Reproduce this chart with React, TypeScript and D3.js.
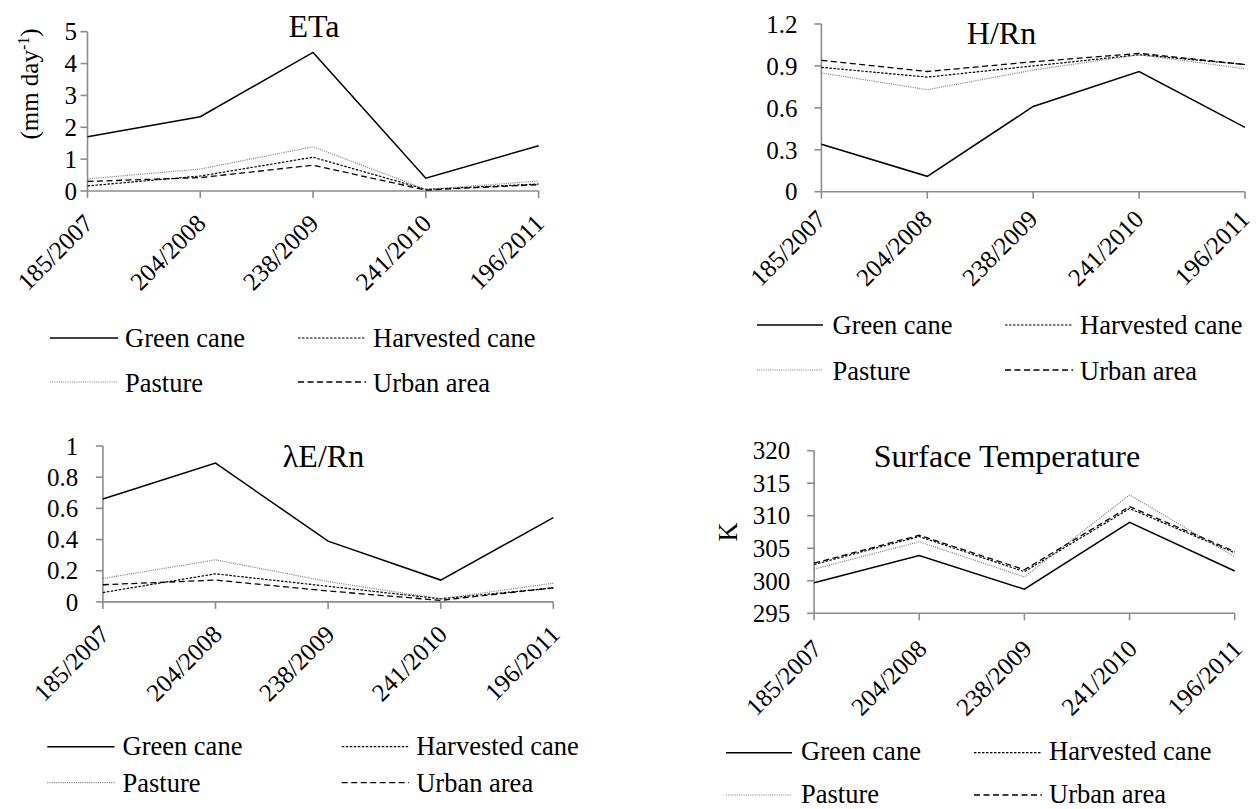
import React from 'react'
import * as d3 from 'd3'

// acquisition dates (day of year / year)
const dates = ['185/2007', '204/2008', '238/2009', '241/2010', '196/2011']
const seriesNames = ['Green cane', 'Harvested cane', 'Pasture', 'Urban area']

// ETa (mm day-1)
const etaGreen = [1.7, 2.33, 4.35, 0.4, 1.42]
const etaHarvested = [0.16, 0.47, 1.06, 0.05, 0.22]
const etaPasture = [0.38, 0.69, 1.39, 0.05, 0.31]
const etaUrban = [0.3, 0.42, 0.81, 0.03, 0.2]
const etaTicks = [0, 1, 2, 3, 4, 5]
const etaTickLabels = ['0', '1', '2', '3', '4', '5']

// H/Rn
const hrnGreen = [0.34, 0.11, 0.61, 0.86, 0.46]
const hrnHarvested = [0.89, 0.82, 0.9, 0.98, 0.91]
const hrnPasture = [0.85, 0.73, 0.87, 0.98, 0.88]
const hrnUrban = [0.94, 0.86, 0.93, 0.99, 0.91]
const hrnTicks = [0, 0.3, 0.6, 0.9, 1.2]
const hrnTickLabels = ['0', '0.3', '0.6', '0.9', '1.2']

// lambda E / Rn
const leGreen = [0.66, 0.89, 0.39, 0.14, 0.54]
const leHarvested = [0.06, 0.18, 0.1, 0.02, 0.09]
const lePasture = [0.15, 0.27, 0.13, 0.02, 0.12]
const leUrban = [0.11, 0.14, 0.07, 0.01, 0.09]
const leTicks = [0, 0.2, 0.4, 0.6, 0.8, 1]
const leTickLabels = ['0', '0.2', '0.4', '0.6', '0.8', '1']

// surface temperature (K)
const tsGreen = [299.7, 303.9, 298.7, 309.0, 301.5]
const tsHarvested = [302.5, 306.8, 301.4, 311.1, 304.3]
const tsPasture = [301.8, 306.0, 300.6, 313.2, 303.7]
const tsUrban = [302.7, 307.0, 301.7, 311.4, 304.5]
const tsTicks = [295, 300, 305, 310, 315, 320]
const tsTickLabels = ['295', '300', '305', '310', '315', '320']

const FONT = "'Liberation Serif', 'DejaVu Serif', serif"
const AXIS = '#8c8c8c'

// line look per series, same order as seriesNames
const styles = [
  { stroke: '#000', width: 1.5, dash: undefined },
  { stroke: '#000', width: 1.2, dash: '2.5,1.5' },
  { stroke: '#7a7a7a', width: 1.2, dash: '1,1.2' },
  { stroke: '#000', width: 1.3, dash: '6,3.5' },
]

interface Layout {
  x0: number; x1: number; yTop: number; yBot: number
  labelRight: number
  titleX: number; titleY: number
  xlDx: number; xlDy: number
  leg: { l1: number[]; l2: number[]; t1: number; t2: number; r1: number; r2: number; b1: number; b2: number }
}

const panels = [
  {
    title: 'ETa', series: [etaGreen, etaHarvested, etaPasture, etaUrban],
    ticks: etaTicks, tickLabels: etaTickLabels, domain: [0, 5],
    lay: {
      x0: 87.5, x1: 538.6, yTop: 31.7, yBot: 191, labelRight: 77,
      titleX: 314, titleY: 37, xlDx: 7, xlDy: 34,
      leg: { l1: [50, 118], l2: [298, 366], t1: 125, t2: 373, r1: 338, r2: 382, b1: 347, b2: 392 },
    } as Layout,
  },
  {
    title: 'H/Rn', series: [hrnGreen, hrnHarvested, hrnPasture, hrnUrban],
    ticks: hrnTicks, tickLabels: hrnTickLabels, domain: [0, 1.2],
    lay: {
      x0: 821.4, x1: 1245, yTop: 24, yBot: 191.7, labelRight: 797.6,
      titleX: 1001.5, titleY: 44, xlDx: 6, xlDy: 29,
      leg: { l1: [757, 823], l2: [1005, 1073], t1: 832.5, t2: 1080, r1: 325, r2: 370, b1: 334, b2: 380 },
    } as Layout,
  },
  {
    title: 'λE/Rn', series: [leGreen, leHarvested, lePasture, leUrban],
    ticks: leTicks, tickLabels: leTickLabels, domain: [0, 1],
    lay: {
      x0: 102.9, x1: 553.3, yTop: 446, yBot: 601.9, labelRight: 78.2,
      titleX: 323.5, titleY: 466.7, xlDx: 8, xlDy: 34,
      leg: { l1: [47.3, 114.5], l2: [341.7, 409], t1: 122.5, t2: 416.2, r1: 746.7, r2: 782.7, b1: 755, b2: 791.7 },
    } as Layout,
  },
  {
    title: 'Surface Temperature', series: [tsGreen, tsHarvested, tsPasture, tsUrban],
    ticks: tsTicks, tickLabels: tsTickLabels, domain: [295, 320],
    lay: {
      x0: 814.1, x1: 1234.7, yTop: 450.7, yBot: 613.3, labelRight: 790.2,
      titleX: 1007, titleY: 466.7, xlDx: 9, xlDy: 37,
      leg: { l1: [726, 792], l2: [974, 1042], t1: 801, t2: 1049, r1: 752.7, r2: 795, b1: 760, b2: 803.3 },
    } as Layout,
  },
]

const txt = { fontFamily: FONT, fill: '#000' }

const Panel: React.FC<{ p: typeof panels[number] }> = ({ p }) => {
  const L = p.lay
  const x = d3.scalePoint<string>().domain(dates).range([L.x0, L.x1])
  const y = d3.scaleLinear().domain(p.domain).range([L.yBot, L.yTop])
  const line = d3.line<number>()
    .x((_, i) => x(dates[i]) as number)
    .y((d) => y(d))

  const legendRows = [
    { y: L.leg.r1, b: L.leg.b1, items: [0, 1] },
    { y: L.leg.r2, b: L.leg.b2, items: [2, 3] },
  ]

  return (
    <g>
      <text x={L.titleX} y={L.titleY} textAnchor="middle" style={{ ...txt, fontSize: 32 }}>{p.title}</text>

      {/* y axis */}
      <line x1={L.x0} x2={L.x0} y1={y(p.domain[1])} y2={y(p.domain[0])} stroke={AXIS} strokeWidth={1.6} />
      {p.ticks.map((t, i) => (
        <g key={'y' + i}>
          <line x1={L.x0 - 7} x2={L.x0} y1={y(t)} y2={y(t)} stroke={AXIS} strokeWidth={1.6} />
          <text x={L.labelRight} y={y(t)} dy="0.35em" textAnchor="end" style={{ ...txt, fontSize: 25 }}>{p.tickLabels[i]}</text>
        </g>
      ))}

      {/* x axis */}
      <line x1={L.x0} x2={L.x1} y1={L.yBot} y2={L.yBot} stroke={AXIS} strokeWidth={1.6} />
      {dates.map((d) => {
        const tx = x(d) as number
        const ax = tx + L.xlDx
        const ay = L.yBot + L.xlDy
        return (
          <g key={d}>
            <line x1={tx} x2={tx} y1={L.yBot} y2={L.yBot + 7} stroke={AXIS} strokeWidth={1.6} />
            <text x={ax} y={ay} textAnchor="end" style={{ ...txt, fontSize: 25 }}
              transform={`rotate(-45 ${ax} ${ay})`}>{d}</text>
          </g>
        )
      })}

      {/* series */}
      {p.series.map((s, i) => (
        <path key={i} d={line(s) ?? ''} fill="none" stroke={styles[i].stroke}
          strokeWidth={styles[i].width} strokeDasharray={styles[i].dash} />
      ))}

      {/* legend */}
      {legendRows.map((r, ri) => (
        <g key={'lg' + ri}>
          {r.items.map((si, ci) => {
            const lx = ci === 0 ? L.leg.l1 : L.leg.l2
            const tx = ci === 0 ? L.leg.t1 : L.leg.t2
            return (
              <g key={si}>
                <line x1={lx[0]} x2={lx[1]} y1={r.y} y2={r.y} stroke={styles[si].stroke}
                  strokeWidth={styles[si].width} strokeDasharray={styles[si].dash} />
                <text x={tx} y={r.b} style={{ ...txt, fontSize: 26.5 }}>{seriesNames[si]}</text>
              </g>
            )
          })}
        </g>
      ))}
    </g>
  )
}

export default function App() {
  return (
    <svg width={1256} height={809}
      style={{ position: 'absolute', left: 0, top: 0, background: '#fff', fontFamily: FONT }}>
      <rect width={1256} height={809} fill="#fff" />
      {panels.map((p) => <Panel key={p.title} p={p} />)}
      <text transform="translate(29 84) rotate(-90)" textAnchor="middle" dy="0.35em" style={{ ...txt, fontSize: 25 }}>
        (mm day<tspan style={{ fontSize: 16 }} dy={-9}>-1</tspan><tspan dy={9}>)</tspan>
      </text>
      <text transform="translate(728 532) rotate(-90)" textAnchor="middle" dy="0.35em" style={{ ...txt, fontSize: 26.5 }}>K</text>
    </svg>
  )
}
